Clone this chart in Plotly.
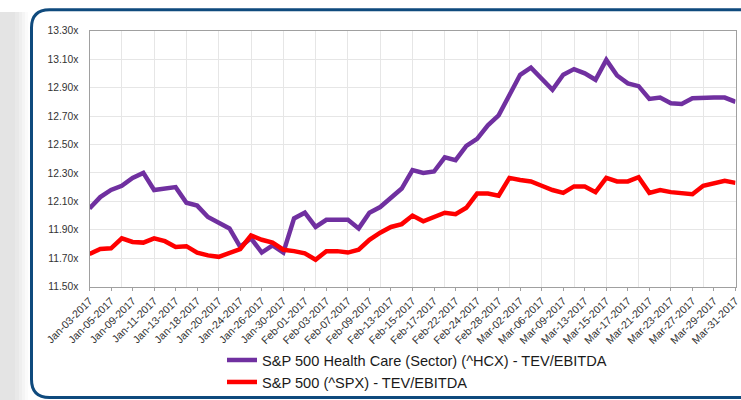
import plotly.graph_objects as go

W, H = 741, 400

dates = [
    "Jan-03-2017", "Jan-04-2017", "Jan-05-2017", "Jan-06-2017", "Jan-09-2017", "Jan-10-2017",
    "Jan-11-2017", "Jan-12-2017", "Jan-13-2017", "Jan-17-2017", "Jan-18-2017", "Jan-19-2017",
    "Jan-20-2017", "Jan-23-2017", "Jan-24-2017", "Jan-25-2017", "Jan-26-2017", "Jan-27-2017",
    "Jan-30-2017", "Jan-31-2017", "Feb-01-2017", "Feb-02-2017", "Feb-03-2017", "Feb-06-2017",
    "Feb-07-2017", "Feb-08-2017", "Feb-09-2017", "Feb-10-2017", "Feb-13-2017", "Feb-14-2017",
    "Feb-15-2017", "Feb-16-2017", "Feb-17-2017", "Feb-21-2017", "Feb-22-2017", "Feb-23-2017",
    "Feb-24-2017", "Feb-27-2017", "Feb-28-2017", "Mar-01-2017", "Mar-02-2017", "Mar-03-2017",
    "Mar-06-2017", "Mar-07-2017", "Mar-09-2017", "Mar-10-2017", "Mar-13-2017", "Mar-14-2017",
    "Mar-15-2017", "Mar-16-2017", "Mar-17-2017", "Mar-20-2017", "Mar-21-2017", "Mar-22-2017",
    "Mar-23-2017", "Mar-24-2017", "Mar-27-2017", "Mar-28-2017", "Mar-29-2017", "Mar-30-2017",
    "Mar-31-2017",
]

hcx_tev_ebitda = [
    12.05, 12.13, 12.18, 12.21, 12.265, 12.30, 12.18, 12.19, 12.20, 12.09,
    12.07, 11.99, 11.95, 11.91, 11.78, 11.84, 11.74, 11.79, 11.74, 11.98,
    12.02, 11.92, 11.97, 11.97, 11.97, 11.91, 12.02, 12.06, 12.12, 12.19,
    12.32, 12.30, 12.31, 12.41, 12.39, 12.49, 12.54, 12.635, 12.705, 12.85,
    12.99, 13.04, 12.96, 12.885, 12.99, 13.03, 13.00, 12.955, 13.095, 12.985,
    12.93, 12.91, 12.82, 12.83, 12.79, 12.785, 12.825, 12.83, 12.83, 12.83,
    12.80,
]

spx_tev_ebitda = [
    11.73, 11.765, 11.77, 11.84, 11.815, 11.81, 11.84, 11.82, 11.78, 11.785,
    11.74, 11.72, 11.71, 11.74, 11.765, 11.86, 11.83, 11.81, 11.76, 11.75,
    11.735, 11.69, 11.75, 11.75, 11.74, 11.76, 11.83, 11.88, 11.92, 11.94,
    12.00, 11.96, 11.99, 12.02, 12.01, 12.055, 12.155, 12.155, 12.14, 12.265,
    12.25, 12.24, 12.21, 12.18, 12.16, 12.205, 12.205, 12.165, 12.265, 12.24,
    12.24, 12.27, 12.16, 12.18, 12.165, 12.155, 12.15, 12.21, 12.23, 12.245,
    12.23,
]

series_names = [
    "S&P 500 Health Care (Sector) (^HCX) - TEV/EBITDA",
    "S&P 500 (^SPX) - TEV/EBITDA",
]
series_colors = ["#7030a0", "#ff0000"]

idx = list(range(len(dates)))
tick_idx = idx[::2]
tick_text = [dates[i] for i in tick_idx]
grid_idx = idx[::3]

FONT = "Liberation Sans, Arial, sans-serif"

def px(x):
    return x / W

def py(y):
    return 1 - y / H

fig = go.Figure()
for name, vals, col in zip(series_names, [hcx_tev_ebitda, spx_tev_ebitda], series_colors):
    fig.add_trace(go.Scatter(
        x=idx, y=vals, mode="lines", name=name,
        line=dict(color=col, width=4.5),
        hoverinfo="skip",
    ))

# background shadow strip at left + frame
shapes = []
shadow = [(0, 15, "#e4e4e4"), (15, 19, "#e9e9e9"), (19, 22, "#efefef"),
          (22, 25, "#f5f5f5"), (25, 28, "#fbfbfb")]
for x0, x1, c in shadow:
    shapes.append(dict(type="rect", xref="paper", yref="paper", layer="below",
                       x0=px(x0), x1=px(x1), y0=py(400), y1=py(12),
                       fillcolor=c, line=dict(width=0)))
L, T, B, R, r = 31.5, 9.8, 397.5, 760, 18
path = (f"M {px(R)},{py(T)} L {px(L + r)},{py(T)} Q {px(L)},{py(T)} {px(L)},{py(T + r)} "
        f"L {px(L)},{py(B - r)} Q {px(L)},{py(B)} {px(L + r)},{py(B)} L {px(R)},{py(B)}")
shapes.append(dict(type="path", xref="paper", yref="paper", path=path,
                   line=dict(color="#0f4a7d", width=3)))

fig.update_layout(
    template="none",
    width=W, height=H,
    margin=dict(l=0, r=0, t=0, b=0, pad=0, autoexpand=False),
    paper_bgcolor="white", plot_bgcolor="white",
    font=dict(family=FONT, color="#333333", size=10),
    shapes=shapes,
    showlegend=True,
    legend=dict(
        x=px(222), y=py(344), xanchor="left", yanchor="top",
        font=dict(family=FONT, size=14.6, color="#1a1a1a"),
        bgcolor="rgba(0,0,0,0)", borderwidth=0,
        itemwidth=30, tracegroupgap=0,
    ),
    xaxis=dict(
        domain=[px(89.5), px(735.5)],
        range=[0, len(dates) - 1],
        automargin=False,
        tickmode="array", tickvals=tick_idx, ticktext=tick_text,
        tickangle=-45, tickfont=dict(size=10.6, color="#333333"),
        ticks="outside", ticklen=3, tickcolor="#a0a0a0",
        showgrid=False, zeroline=False,
        showline=True, mirror=True, linecolor="#a0a0a0", linewidth=1,
        minor=dict(tickmode="array", tickvals=grid_idx, showgrid=True,
                   gridcolor="#e6e6e6", gridwidth=1, ticks=""),
        fixedrange=True,
    ),
    yaxis=dict(
        domain=[py(286.7), py(30.7)],
        range=[11.5, 13.3],
        automargin=False,
        tick0=11.5, dtick=0.2, tickformat=".2f", ticksuffix="x",
        tickfont=dict(size=10.3, color="#333333"),
        showgrid=True, gridcolor="#e6e6e6", gridwidth=1,
        zeroline=False,
        showline=True, mirror=True, linecolor="#a0a0a0", linewidth=1,
        ticks="", ticklabelstandoff=8,
        fixedrange=True,
    ),
)

fig.write_html(
    "out.html",
    config={"displayModeBar": False},
    post_script="document.body.style.margin='0';document.body.style.overflow='hidden';",
)
